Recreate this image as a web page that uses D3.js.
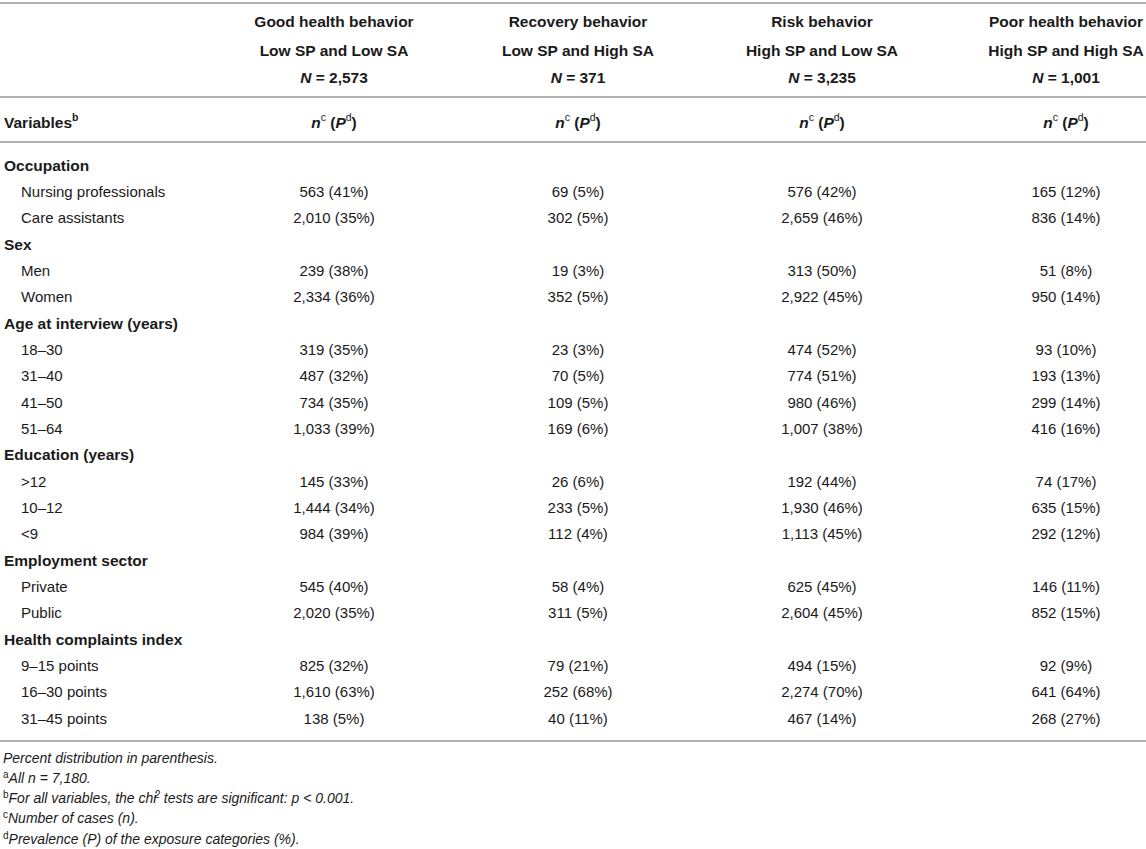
<!DOCTYPE html>
<html><head><meta charset="utf-8">
<script src="https://cdn.jsdelivr.net/npm/d3@7"></script>
<style>
html,body{margin:0;padding:0;background:#fff;}
svg{display:block;font-family:"Liberation Sans",Arial,Helvetica,sans-serif;}
</style></head>
<body>
<script>
const columnTitles = ["Good health behavior","Recovery behavior","Risk behavior","Poor health behavior"];
const columnSubtitles = ["Low SP and Low SA","Low SP and High SA","High SP and Low SA","High SP and High SA"];
const columnN = [2573, 371, 3235, 1001];

const groups = ["Occupation","Sex","Age at interview (years)","Education (years)","Employment sector","Health complaints index"];
const groupRows = [
  ["Nursing professionals","Care assistants"],
  ["Men","Women"],
  ["18–30","31–40","41–50","51–64"],
  [">12","10–12","<9"],
  ["Private","Public"],
  ["9–15 points","16–30 points","31–45 points"]
];

const goodN = [563,2010,239,2334,319,487,734,1033,145,1444,984,545,2020,825,1610,138];
const goodP = [41,35,38,36,35,32,35,39,33,34,39,40,35,32,63,5];
const recN  = [69,302,19,352,23,70,109,169,26,233,112,58,311,79,252,40];
const recP  = [5,5,3,5,3,5,5,6,6,5,4,4,5,21,68,11];
const riskN = [576,2659,313,2922,474,774,980,1007,192,1930,1113,625,2604,494,2274,467];
const riskP = [42,46,50,45,52,51,46,38,44,46,45,45,45,15,70,14];
const poorN = [165,836,51,950,93,193,299,416,74,635,292,146,852,92,641,268];
const poorP = [12,14,8,14,10,13,14,16,17,15,12,11,15,9,64,27];

const seriesN = [goodN, recN, riskN, poorN];
const seriesP = [goodP, recP, riskP, poorP];

const W = 1146, H = 849;
const textColor = "#1a1a1a", ruleColor = "#b3b3b3";
const fs = 15;
const fmt = d3.format(",");

const svg = d3.select("body").append("svg").attr("width", W).attr("height", H);

// flatten rows
const flat = [];
let di = 0;
groups.forEach((g, gi) => {
  flat.push({type:"group", label:g});
  groupRows[gi].forEach(r => { flat.push({type:"row", label:r, idx:di}); di++; });
});

const y = d3.scalePoint().domain(d3.range(flat.length)).range([165, 718]);
const x = d3.scalePoint().domain(d3.range(4)).range([334, 1066]);

// rules
const rules = [3, 97, 142, 741];
svg.selectAll("line.rule").data(rules).join("line")
  .attr("x1", 0).attr("x2", W).attr("y1", d => d).attr("y2", d => d)
  .attr("stroke", ruleColor).attr("stroke-width", 2);

// header
const hdr = svg.append("g").attr("fill", textColor).attr("font-size", 15.5).attr("font-weight", "bold")
  .attr("text-anchor", "middle").attr("dominant-baseline", "central");
d3.range(4).forEach(i => {
  hdr.append("text").attr("x", x(i)).attr("y", 21).text(columnTitles[i]);
  hdr.append("text").attr("x", x(i)).attr("y", 50).text(columnSubtitles[i]);
  const t = hdr.append("text").attr("x", x(i)).attr("y", 77);
  t.append("tspan").attr("font-style", "italic").text("N");
  t.append("tspan").text(" = " + fmt(columnN[i]));
});

// variables row
const vr = svg.append("g").attr("fill", textColor).attr("font-size", 15.5).attr("font-weight", "bold")
  .attr("dominant-baseline", "central");
const vt = vr.append("text").attr("x", 4).attr("y", 122);
vt.append("tspan").text("Variables");
vt.append("tspan").attr("font-size", 10.5).attr("dy", -5).text("b");
d3.range(4).forEach(i => {
  const t = vr.append("text").attr("x", x(i)).attr("y", 122).attr("text-anchor", "middle");
  t.append("tspan").attr("font-style", "italic").text("n");
  t.append("tspan").attr("font-size", 10.5).attr("font-weight", "normal").attr("dy", -5).text("c");
  t.append("tspan").attr("dy", 5).text(" (");
  t.append("tspan").attr("font-style", "italic").text("P");
  t.append("tspan").attr("font-size", 10.5).attr("font-weight", "normal").attr("dy", -5).text("d");
  t.append("tspan").attr("dy", 5).text(")");
});

// body
const body = svg.append("g").attr("fill", textColor).attr("font-size", fs).attr("dominant-baseline", "central");
flat.forEach((r, i) => {
  if (r.type === "group") {
    body.append("text").attr("x", 4).attr("y", y(i)).attr("font-weight", "bold").attr("font-size", 15.5).text(r.label);
  } else {
    body.append("text").attr("x", 21).attr("y", y(i)).text(r.label);
    d3.range(4).forEach(c => {
      body.append("text").attr("x", x(c)).attr("y", y(i)).attr("text-anchor", "middle")
        .text(fmt(seriesN[c][r.idx]) + " (" + seriesP[c][r.idx] + "%)");
    });
  }
});

// footnotes
const fn = svg.append("g").attr("fill", textColor).attr("font-size", 14).attr("font-style", "italic")
  .attr("dominant-baseline", "central");
const fy = [758, 778, 798, 818, 839];
fn.append("text").attr("x", 3).attr("y", fy[0]).text("Percent distribution in parenthesis.");
const notes = [
  ["a", "All n = 7,180."],
  ["b", "For all variables, the chi"],
  ["c", "Number of cases (n)."],
  ["d", "Prevalence (P) of the exposure categories (%)."]
];
notes.forEach((n, i) => {
  const t = fn.append("text").attr("x", 3).attr("y", fy[i+1]);
  t.append("tspan").attr("font-size", 10).attr("font-style", "normal").attr("dy", -4).text(n[0]);
  t.append("tspan").attr("dy", 4).text(n[1]);
  if (n[0] === "b") {
    t.append("tspan").attr("font-size", 10).attr("dx", -2).attr("dy", -4).text("2");
    t.append("tspan").attr("dy", 4).text(" tests are significant: p < 0.001.");
  }
});
</script>
</body></html>
